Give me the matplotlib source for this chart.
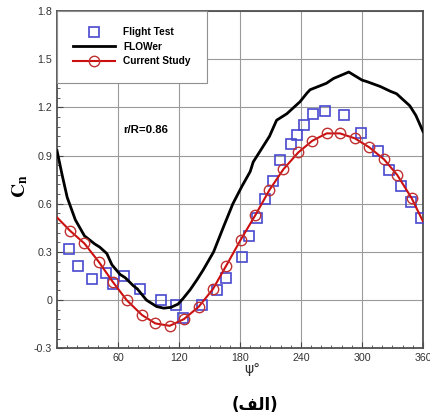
import matplotlib.pyplot as plt
from matplotlib.ticker import MultipleLocator, FixedLocator

plt.rcParams['mathtext.fontset'] = 'stix'

# Flight test (squares)
psi_ft = [12, 21, 34, 48, 55, 66, 82, 102, 117, 124, 143, 157, 166, 182, 189, 197,
          205, 212, 219, 230, 236, 243, 252, 264, 282, 299, 316, 327, 338, 348, 358]
cn_ft = [0.32, 0.21, 0.13, 0.17, 0.10, 0.15, 0.07, 0.00, -0.03, -0.11, -0.03, 0.06,
         0.14, 0.27, 0.40, 0.51, 0.63, 0.74, 0.87, 0.97, 1.03, 1.09, 1.16, 1.18,
         1.15, 1.04, 0.93, 0.81, 0.71, 0.61, 0.51]

# FLOWer (black line)
psi_fl = [0, 5, 10, 18, 27, 37, 42, 49, 54, 62, 67, 75, 79, 88, 98, 105, 112, 119,
          124, 131, 138, 144, 154, 164, 173, 182, 190, 193, 209, 216, 226, 239, 246,
          249, 265, 272, 287, 300, 305, 318, 328, 334, 347, 353, 360]
cn_fl = [0.93, 0.78, 0.64, 0.50, 0.40, 0.35, 0.33, 0.29, 0.22, 0.16, 0.14, 0.09,
         0.07, 0.00, -0.04, -0.05, -0.045, -0.025, 0.01, 0.065, 0.13, 0.19, 0.30,
         0.46, 0.60, 0.71, 0.80, 0.86, 1.02, 1.12, 1.16, 1.235, 1.29, 1.31, 1.35,
         1.38, 1.42, 1.37, 1.36, 1.33, 1.30, 1.285, 1.21, 1.15, 1.05]

# Current study (red line with circles, ends have no marker)
psi_cs = [0, 12.8, 26.9, 41, 54.8, 68.5, 83.6, 96.7, 110.8, 124.9, 139.4, 153.3,
          166.4, 180.7, 195.2, 208.9, 222.6, 237.4, 251.1, 265.2, 278.3, 293.1,
          307.2, 321.6, 334.7, 348.9, 360]
cn_cs = [0.515, 0.432, 0.353, 0.239, 0.114, 0.0, -0.093, -0.145, -0.16, -0.118,
         -0.041, 0.068, 0.214, 0.376, 0.53, 0.685, 0.814, 0.92, 0.992, 1.038,
         1.038, 1.007, 0.951, 0.877, 0.779, 0.634, 0.49]

xticks = [60, 120, 180, 240, 300, 360]
yticks = [-0.3, 0, 0.3, 0.6, 0.9, 1.2, 1.5, 1.8]
ylabels = ["-0.3", "0", "0.3", "0.6", "0.9", "1.2", "1.5", "1.8"]

fig = plt.figure(figsize=(4.31, 4.20), dpi=100)
ax = fig.add_axes([0.1323, 0.1707, 0.8491, 0.8031])

ax.plot(psi_ft, cn_ft, 's', ms=7, mfc='none', mec='#4848d0', mew=1.2,
        label='Flight Test', zorder=3)
ax.plot(psi_fl, cn_fl, '-', color='black', lw=2.0, label='FLOWer', zorder=4)
ax.plot(psi_cs, cn_cs, '-o', color='#cc1010', lw=1.5, ms=7.5, mfc='none',
        mec='#c03030', mew=1.0, markevery=list(range(1, len(psi_cs) - 1)),
        label='Current Study', zorder=5)

ax.set_xlim(0, 360)
ax.set_ylim(-0.3, 1.8)
ax.xaxis.set_major_locator(FixedLocator(xticks))
ax.xaxis.set_minor_locator(MultipleLocator(10))
ax.set_yticks(yticks)
ax.set_yticklabels(ylabels)
ax.yaxis.set_minor_locator(MultipleLocator(0.06))
ax.tick_params(which='both', direction='in', top=False, right=False,
               labelsize=7.7, labelcolor='#333333', color='#444444')
ax.tick_params(which='major', length=4)
ax.tick_params(which='minor', length=2.5)
for lab in ax.get_xticklabels() + ax.get_yticklabels():
    lab.set_family('Liberation Sans')
ax.grid(True, which='major', color='#9a9a9a', lw=0.8)
for s in ax.spines.values():
    s.set_color('#505050')
    s.set_linewidth(1.3)

leg = ax.legend(loc='upper left', bbox_to_anchor=(0, 1), borderaxespad=0,
                fancybox=False, edgecolor='#909090', framealpha=1,
                handlelength=4.1, labelspacing=0.45, borderpad=1.6,
                prop={'family': 'Liberation Sans', 'weight': 'bold', 'size': 7.3})
leg.get_frame().set_linewidth(0.8)

ax.text(65, 1.06, 'r/R=0.86', family='Liberation Sans', weight='bold',
        fontsize=8.2, va='center')

ax.set_ylabel(r'$\mathbf{C_n}$', fontsize=14)
ax.yaxis.set_label_coords(-0.075, 0.48)
ax.set_xlabel('ψ°', fontsize=10, family='DejaVu Sans', color='#333333')
ax.xaxis.set_label_coords(0.533, -0.04)

# (الف) in visual order with presentation forms
fig.text(0.592, 0.036, '(\ufed2\ufedf\ufe8d)', ha='center', va='center',
         fontsize=12, weight='bold', family='DejaVu Sans')

fig.savefig('out.png', dpi=100)
